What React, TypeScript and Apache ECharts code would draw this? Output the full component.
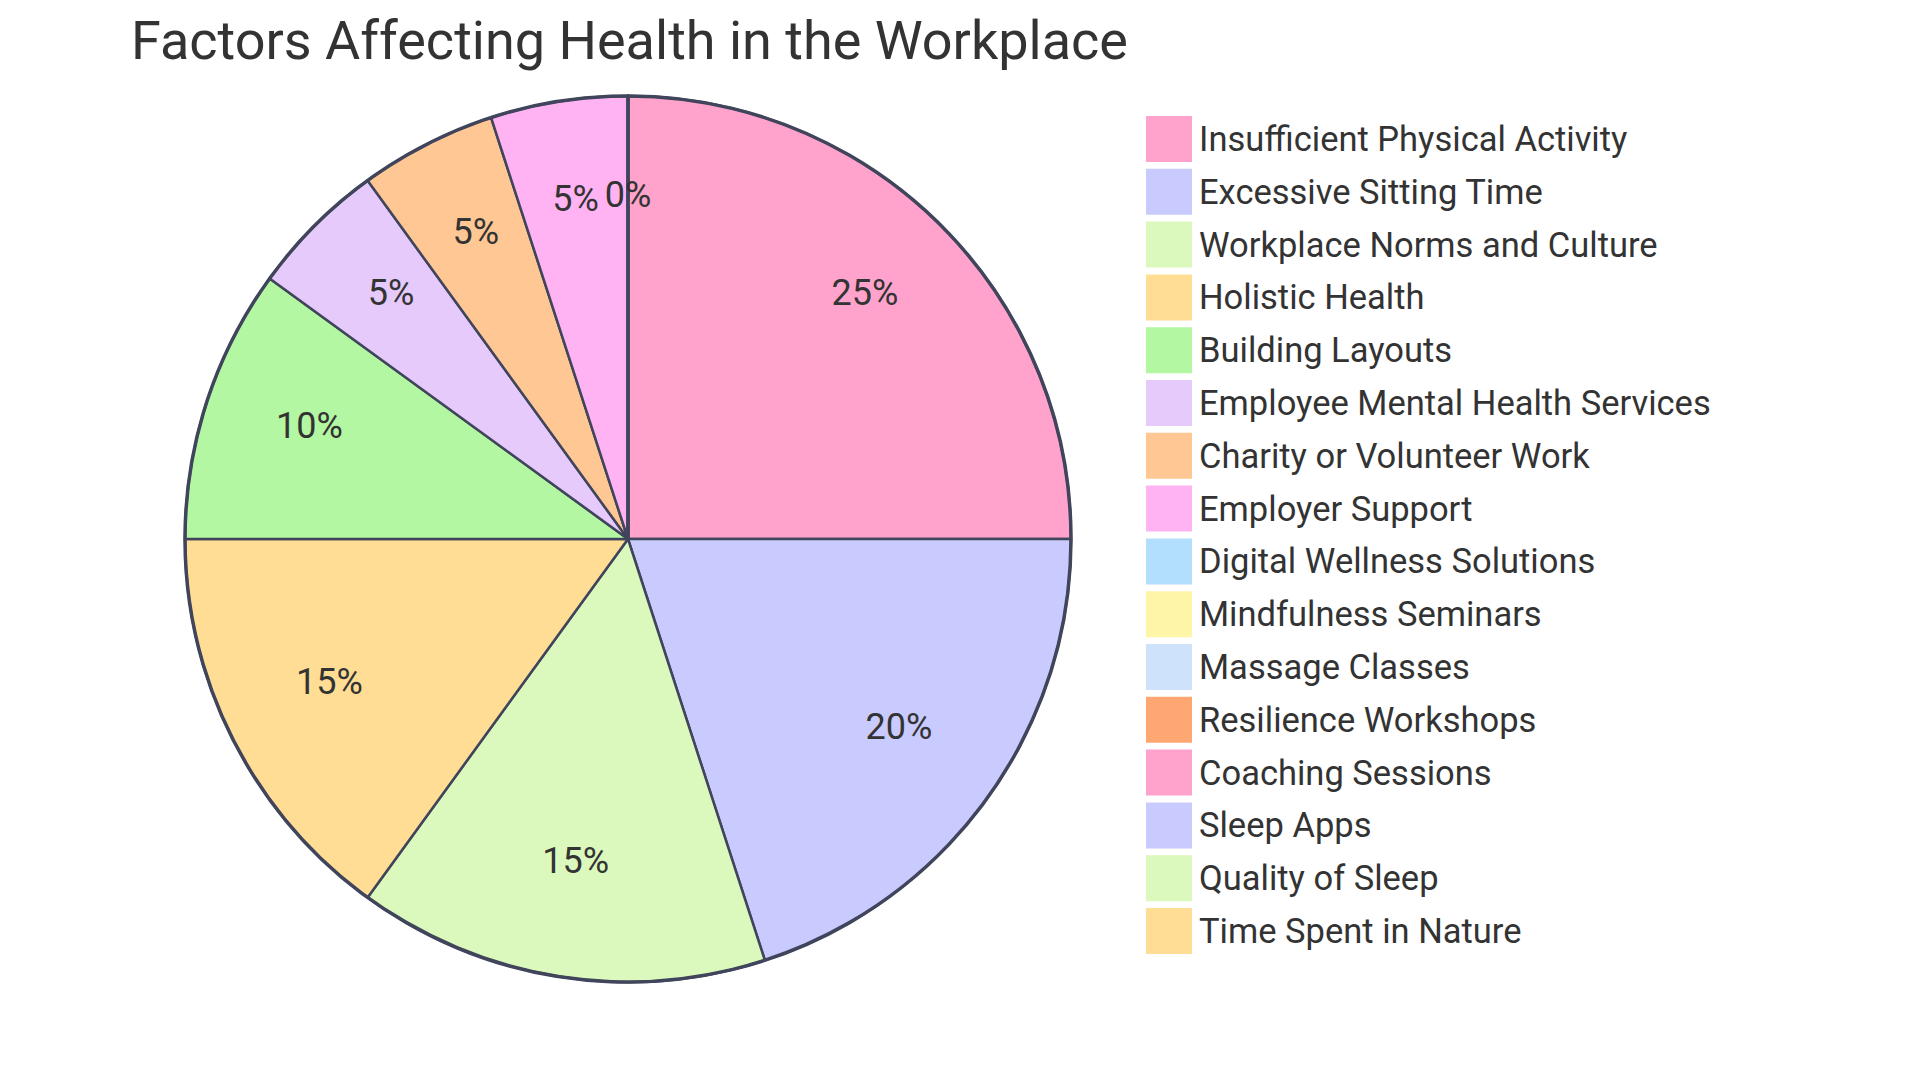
import React, { useEffect, useRef } from "react";
import * as echarts from "echarts";

const titleText = "Factors Affecting Health in the Workplace";

const categories = [
  "Insufficient Physical Activity",
  "Excessive Sitting Time",
  "Workplace Norms and Culture",
  "Holistic Health",
  "Building Layouts",
  "Employee Mental Health Services",
  "Charity or Volunteer Work",
  "Employer Support",
  "Digital Wellness Solutions",
  "Mindfulness Seminars",
  "Massage Classes",
  "Resilience Workshops",
  "Coaching Sessions",
  "Sleep Apps",
  "Quality of Sleep",
  "Time Spent in Nature",
];

const values = [25, 20, 15, 15, 10, 5, 5, 5, 0, 0, 0, 0, 0, 0, 0, 0];

const colors = [
  "#FFA3CC",
  "#C9CAFD",
  "#DBF9BC",
  "#FFDD94",
  "#B3F7A2",
  "#E6CAFB",
  "#FFC794",
  "#FFB3F2",
  "#B3DFFE",
  "#FFF5A6",
  "#CEE3FB",
  "#FFA772",
  "#FFA3CC",
  "#C9CAFD",
  "#DBF9BC",
  "#FFDD94",
];

const FONT = "Roboto";
const TEXT = "#333333";
const STROKE = "#40455C";

export default function App() {
  const ref = useRef<HTMLDivElement>(null);

  useEffect(() => {
    document.body.style.margin = "0";
    if (!ref.current) return;
    const chart = echarts.init(ref.current, undefined, { renderer: "svg" });
    const data = categories.map((name, i) => ({
      name,
      value: values[i],
      itemStyle: { color: colors[i] },
    }));
    const R = 443;
    const labelR = 332;
    chart.setOption({
      animation: false,
      backgroundColor: "#ffffff",
      title: {
        text: titleText,
        left: 126,
        top: 8,
        textStyle: {
          fontFamily: FONT,
          fontSize: 54,
          fontWeight: "normal",
          color: TEXT,
        },
      },
      legend: {
        orient: "vertical",
        left: 1146,
        top: 116,
        padding: 0,
        icon: "rect",
        itemWidth: 46,
        itemHeight: 46,
        itemGap: 6.8,
        selectedMode: false,
        itemStyle: { borderWidth: 0 },
        textStyle: {
          fontFamily: FONT,
          fontSize: 34.5,
          color: TEXT,
          padding: [0, 0, 0, 2],
        },
        data: categories,
      },
      series: [
        {
          type: "pie",
          center: [628, 539],
          radius: [0, R],
          startAngle: 90,
          clockwise: true,
          silent: true,
          label: { show: false },
          labelLine: { show: false },
          itemStyle: { borderColor: STROKE, borderWidth: 2.5 },
          data,
          z: 1,
        },
        {
          type: "pie",
          center: [628, 539],
          radius: [2 * labelR - R, R],
          startAngle: 90,
          clockwise: true,
          silent: true,
          itemStyle: { color: "transparent", borderWidth: 0 },
          label: {
            show: true,
            position: "inside",
            formatter: (p: any) => `{a|${Math.round(p.percent)}%}\n{b| }`,
            rich: {
              a: {
                fontFamily: FONT,
                fontSize: 36,
                lineHeight: 40,
                color: TEXT,
              },
              b: {
                fontFamily: FONT,
                fontSize: 4,
                lineHeight: 18,
                color: TEXT,
              },
            },
          },
          labelLine: { show: false },
          data: categories.map((name, i) => ({ name, value: values[i] })),
          z: 3,
        },
      ],
      graphic: [
        {
          type: "circle",
          shape: { cx: 628, cy: 539, r: R },
          style: { fill: "none", stroke: STROKE, lineWidth: 3.5 },
          silent: true,
          z: 10,
        },
      ],
    });
    return () => chart.dispose();
  }, []);

  return <div ref={ref} style={{ width: 1920, height: 1080 }} />;
}
